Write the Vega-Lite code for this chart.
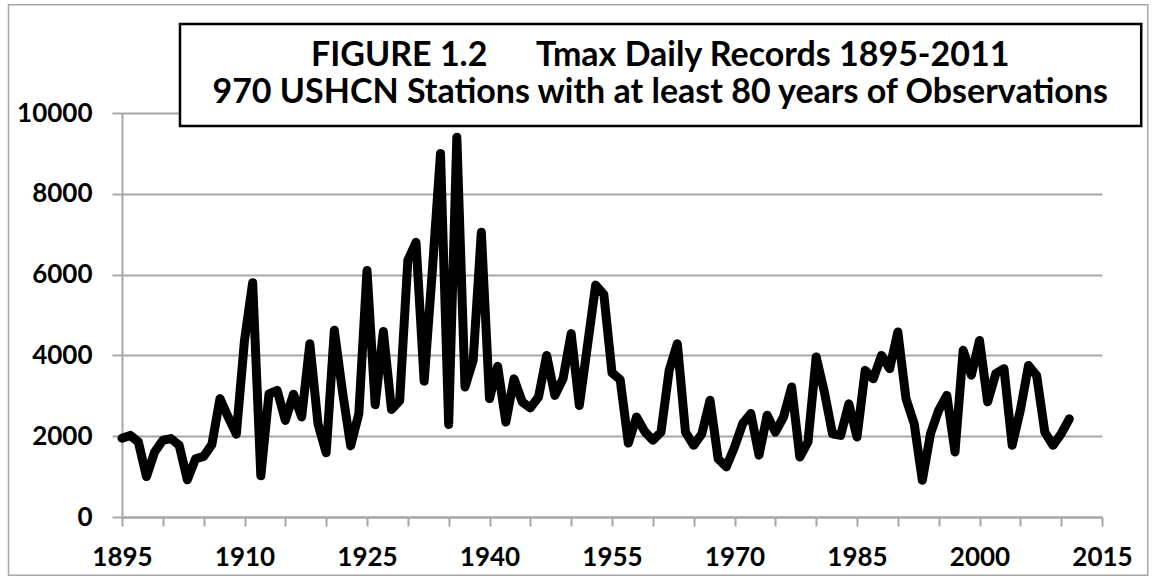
{
  "$schema": "https://vega.github.io/schema/vega-lite/v6.json",
  "width": 980,
  "height": 404,
  "autosize": {"type": "none"},
  "padding": {"left": 122, "top": 113, "right": 51, "bottom": 63},
  "background": "white",
  "config": {
    "view": {"stroke": null},
    "font": "Lato"
  },
  "layer": [
    {
      "data": {"values": [
        {"year": 1895, "records": 1950}, {"year": 1896, "records": 2020}, {"year": 1897, "records": 1860}, {"year": 1898, "records": 1000}, {"year": 1899, "records": 1610},
        {"year": 1900, "records": 1900}, {"year": 1901, "records": 1940}, {"year": 1902, "records": 1775}, {"year": 1903, "records": 920}, {"year": 1904, "records": 1440},
        {"year": 1905, "records": 1500}, {"year": 1906, "records": 1790}, {"year": 1907, "records": 2930}, {"year": 1908, "records": 2475}, {"year": 1909, "records": 2050},
        {"year": 1910, "records": 4370}, {"year": 1911, "records": 5800}, {"year": 1912, "records": 1020}, {"year": 1913, "records": 3050}, {"year": 1914, "records": 3135},
        {"year": 1915, "records": 2390}, {"year": 1916, "records": 3040}, {"year": 1917, "records": 2475}, {"year": 1918, "records": 4290}, {"year": 1919, "records": 2310},
        {"year": 1920, "records": 1590}, {"year": 1921, "records": 4620}, {"year": 1922, "records": 3100}, {"year": 1923, "records": 1760}, {"year": 1924, "records": 2560},
        {"year": 1925, "records": 6100}, {"year": 1926, "records": 2780}, {"year": 1927, "records": 4590}, {"year": 1928, "records": 2660}, {"year": 1929, "records": 2880},
        {"year": 1930, "records": 6350}, {"year": 1931, "records": 6800}, {"year": 1932, "records": 3360}, {"year": 1933, "records": 6100}, {"year": 1934, "records": 9000},
        {"year": 1935, "records": 2290}, {"year": 1936, "records": 9400}, {"year": 1937, "records": 3220}, {"year": 1938, "records": 3880}, {"year": 1939, "records": 7050},
        {"year": 1940, "records": 2930}, {"year": 1941, "records": 3730}, {"year": 1942, "records": 2350}, {"year": 1943, "records": 3420}, {"year": 1944, "records": 2850},
        {"year": 1945, "records": 2700}, {"year": 1946, "records": 2970}, {"year": 1947, "records": 4000}, {"year": 1948, "records": 3010}, {"year": 1949, "records": 3420},
        {"year": 1950, "records": 4540}, {"year": 1951, "records": 2760}, {"year": 1952, "records": 4250}, {"year": 1953, "records": 5740}, {"year": 1954, "records": 5510},
        {"year": 1955, "records": 3570}, {"year": 1956, "records": 3400}, {"year": 1957, "records": 1830}, {"year": 1958, "records": 2475}, {"year": 1959, "records": 2120},
        {"year": 1960, "records": 1900}, {"year": 1961, "records": 2100}, {"year": 1962, "records": 3630}, {"year": 1963, "records": 4290}, {"year": 1964, "records": 2100},
        {"year": 1965, "records": 1775}, {"year": 1966, "records": 2060}, {"year": 1967, "records": 2890}, {"year": 1968, "records": 1440}, {"year": 1969, "records": 1240},
        {"year": 1970, "records": 1730}, {"year": 1971, "records": 2310}, {"year": 1972, "records": 2560}, {"year": 1973, "records": 1530}, {"year": 1974, "records": 2520},
        {"year": 1975, "records": 2100}, {"year": 1976, "records": 2475}, {"year": 1977, "records": 3220}, {"year": 1978, "records": 1485}, {"year": 1979, "records": 1860},
        {"year": 1980, "records": 3960}, {"year": 1981, "records": 3100}, {"year": 1982, "records": 2060}, {"year": 1983, "records": 2020}, {"year": 1984, "records": 2800},
        {"year": 1985, "records": 1980}, {"year": 1986, "records": 3630}, {"year": 1987, "records": 3420}, {"year": 1988, "records": 4000}, {"year": 1989, "records": 3670},
        {"year": 1990, "records": 4580}, {"year": 1991, "records": 2930}, {"year": 1992, "records": 2310}, {"year": 1993, "records": 910}, {"year": 1994, "records": 2060},
        {"year": 1995, "records": 2640}, {"year": 1996, "records": 3010}, {"year": 1997, "records": 1610}, {"year": 1998, "records": 4125}, {"year": 1999, "records": 3510},
        {"year": 2000, "records": 4370}, {"year": 2001, "records": 2850}, {"year": 2002, "records": 3550}, {"year": 2003, "records": 3670}, {"year": 2004, "records": 1775},
        {"year": 2005, "records": 2640}, {"year": 2006, "records": 3750}, {"year": 2007, "records": 3500}, {"year": 2008, "records": 2100}, {"year": 2009, "records": 1775},
        {"year": 2010, "records": 2060}, {"year": 2011, "records": 2430}
      ]},
      "mark": {"type": "line", "color": "black", "strokeWidth": 9, "strokeJoin": "round", "strokeCap": "round"},
      "encoding": {
        "x": {
          "field": "year", "type": "quantitative",
          "scale": {"domain": [1895, 2015], "nice": false, "zero": false},
          "axis": {
            "title": null, "grid": false, "format": "d",
            "values": [1895, 1900, 1905, 1910, 1915, 1920, 1925, 1930, 1935, 1940, 1945, 1950, 1955, 1960, 1965, 1970, 1975, 1980, 1985, 1990, 1995, 2000, 2005, 2010, 2015],
            "labelExpr": "(datum.value - 1895) % 15 == 0 ? datum.label : ''",
            "domainColor": "#a6a6a6", "domainWidth": 2,
            "tickColor": "#a6a6a6", "tickWidth": 2, "tickSize": 9,
            "labelFont": "Lato", "labelFontWeight": "bold", "labelFontSize": 26, "labelColor": "black",
            "labelPadding": 18, "labelOverlap": false, "labelFlush": false
          }
        },
        "y": {
          "field": "records", "type": "quantitative",
          "scale": {"domain": [0, 10000], "nice": false},
          "axis": {
            "title": null, "values": [0, 2000, 4000, 6000, 8000, 10000], "format": "d",
            "grid": true, "gridColor": "#a6a6a6", "gridWidth": 2,
            "domainColor": "#a6a6a6", "domainWidth": 2,
            "tickColor": "#a6a6a6", "tickWidth": 2, "tickSize": 10,
            "labelFont": "Lato", "labelFontWeight": "bold", "labelFontSize": 26, "labelColor": "black",
            "labelPadding": 20, "labelOverlap": false, "labelFlush": false
          }
        }
      }
    },
    {
      "data": {"values": [{"box": "outer"}]},
      "mark": {"type": "rect", "fill": null, "stroke": "#a6a6a6", "strokeWidth": 1.5, "clip": false},
      "encoding": {
        "x": {"datum": 1881.1, "type": "quantitative"},
        "x2": {"datum": 2020.6},
        "y": {"datum": 12680, "type": "quantitative"},
        "y2": {"datum": -1440}
      }
    },
    {
      "data": {"values": [{"box": "title"}]},
      "mark": {"type": "rect", "fill": "white", "stroke": "black", "strokeWidth": 2.5},
      "encoding": {
        "x": {"datum": 1902.1, "type": "quantitative"},
        "x2": {"datum": 2019.8},
        "y": {"datum": 12200, "type": "quantitative"},
        "y2": {"datum": 9677}
      }
    },
    {
      "data": {"values": [{"box": "title text"}]},
      "mark": {"type": "text", "font": "Lato", "fontWeight": "bold", "fontSize": 34, "color": "black", "align": "center", "baseline": "middle", "lineHeight": 37},
      "encoding": {
        "x": {"datum": 1960.9, "type": "quantitative"},
        "y": {"datum": 11420, "type": "quantitative"},
        "text": {"value": ["FIGURE 1.2\u00a0\u00a0\u00a0\u00a0\u00a0 Tmax Daily Records 1895-2011", "970 USHCN Stations with at least 80 years of Observations"]}
      }
    }
  ]
}
